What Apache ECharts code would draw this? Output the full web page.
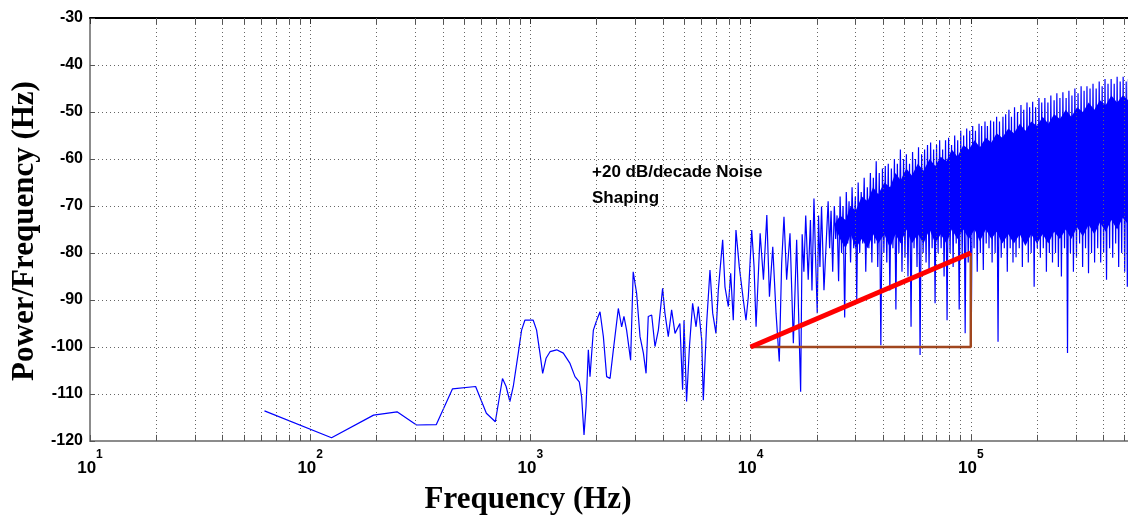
<!DOCTYPE html>
<html>
<head>
<meta charset="utf-8">
<script src="https://cdn.jsdelivr.net/npm/echarts@6/dist/echarts.min.js"></script>
<style>
  html, body { margin: 0; padding: 0; background: #fff; }
  #chart { width: 1128px; height: 521px; }
</style>
</head>
<body>
<div id="chart"></div>
<script>
// x axis range (Hz)
var xMin = 10;
var xMax = 517600;

// PSD trace: frequency (Hz) and level (dB)
var traceFreq = [
    62, 125, 194, 248, 304, 374, 443, 564, 631, 693,
    747, 776, 807, 836, 881, 912, 944, 1030, 1067, 1105,
    1137, 1178, 1228, 1317, 1411, 1513, 1594, 1667, 1709, 1752,
    1789, 1833, 1865, 1932, 2001, 2071, 2145, 2220, 2300, 2381,
    2508, 2597, 2660, 2735, 2852, 2930, 3037, 3147, 3260, 3352,
    3430, 3555, 3680, 3812, 3985, 4083, 4229, 4379, 4538, 4775,
    4912, 4985, 5121, 5277, 5455, 5654, 5790, 5998, 6100, 6316,
    6540, 6728, 6962, 7135, 7468, 7650, 7924, 8120, 8345, 8582,
    8884, 9269, 9531, 9766, 10120, 10370, 10590, 11050, 11440, 11850,
    12180, 12610, 13050, 13500, 13840, 14180, 14580, 15100, 15640, 16190,
    16880, 17150, 17460, 17800, 18270, 18700, 19000, 19400, 19700, 20080,
    20350, 20650, 21000, 21540,
    22500, 22850, 23200, 23600, 24000, 24350, 24700, 25100, 25500, 25900,
    26300, 26750, 27200, 27600, 28000, 28450, 28900, 29400, 29900, 30350,
    30800, 31300, 31800, 32300, 32800, 33350, 33900, 34450, 35000, 35550,
    36100, 36650, 37200, 37800, 38400, 39050, 39700, 40300, 40900, 41550,
    42200, 42900, 43600, 44300, 45000, 45700, 46400, 47150, 47900, 48700,
    49500, 50250, 51000, 51850, 52700, 53550, 54400, 55250, 56100, 57000,
    57900, 58850, 59800, 60750, 61700, 62650, 63600, 64650, 65700, 66750,
    67800, 68850, 69900, 71050, 72200, 73350, 74500, 75650, 76800, 78050,
    79300, 80550, 81800, 83150, 84500, 85850, 87200, 88600, 90000, 91400,
    92800, 94300, 95800, 97350, 98900, 100450, 102000, 103500, 105000, 107000,
    109000, 110500, 112000, 114000, 116000, 117500, 119000, 121000, 123000, 125000,
    127000, 129000, 131000, 133000, 135000, 137500, 140000, 142000, 144000, 146500,
    149000, 151000, 153000, 155500, 158000, 160500, 163000, 166000, 169000, 171500,
    174000, 177000, 180000, 182500, 185000, 188000, 191000, 194000, 197000, 200500,
    204000, 207000, 210000, 213500, 217000, 220500, 224000, 227500, 231000, 235000,
    239000, 242500, 246000, 250000, 254000, 258000, 262000, 266500, 271000, 275000,
    279000, 283500, 288000, 292500, 297000, 302000, 307000, 312000, 317000, 322000,
    327000, 332000, 337000, 342500, 348000, 353500, 359000, 365000, 371000, 377000,
    383000, 389000, 395000, 401000, 407000, 413500, 420000, 427000, 434000, 441000,
    448000, 455000, 462000, 469500, 477000, 484500, 492000, 500000, 508000, 514000,
    520000
];
var traceDb = [
    -113.6, -119.3, -114.5, -113.8, -116.6, -116.5, -108.9, -108.4, -114.1, -115.9,
    -106.7, -108.4, -111.6, -108.4, -101.3, -96.4, -94.3, -94.3, -96.4, -101.3,
    -105.6, -102.4, -101, -100.6, -101.3, -103.5, -106.3, -107.4, -110.6, -118.7,
    -112.7, -100.6, -106.3, -96.4, -94.3, -92.5, -97.8, -106.3, -106.7, -100.6,
    -91.8, -95.7, -93.5, -96.4, -102.8, -84.0, -88.6, -97.8, -101.3, -105.6,
    -93.5, -93.2, -99.9, -96.4, -87.5, -92.8, -97.8, -92.1, -97.1, -95.0,
    -109.1, -94.3, -111.6, -99.9, -90.7, -95.7, -91.4, -98.5, -111.3, -95.0,
    -83.6, -92.8, -97.1, -87.9, -77.2, -87.2, -91.4, -84.3, -94.3, -75.1,
    -82.9, -90.0, -94.3, -89.3, -75.1, -82.9, -95.7, -75.8, -85.7, -71.9,
    -89.3, -78.7, -92.8, -103.1, -82.2, -72.3, -85.7, -75.8, -99.2, -77.2,
    -109.5, -76, -84, -72, -85.7, -73, -88, -68.4, -80, -92.8,
    -72, -83, -70.1, -87.9,
    -69, -79, -71, -84, -70, -77, -72, -86, -68, -80,
    -70, -93.7, -67, -78, -69, -82, -66, -79, -68, -90,
    -65, -80, -67, -78, -64, -84, -66, -79, -63, -82,
    -64, -78, -60.5, -83, -63, -99.6, -62, -80, -61.5, -82,
    -61, -88, -62, -79, -60, -92, -61, -80, -58, -84,
    -60, -81, -59, -85, -61, -95.7, -58.5, -79, -60, -83,
    -57.5, -101.7, -59, -80, -58, -82, -57, -84, -56.5, -79,
    -58, -90.7, -57, -80, -56, -79, -58, -85, -56, -94.3,
    -55.5, -80, -57, -83, -55, -78, -56, -92, -54, -81,
    -55, -97.1, -53.5, -82, -54, -99.9, -53, -79, -54, -84,
    -52.5, -80, -53, -83.6, -52, -78, -53, -79, -51.8, -82,
    -52, -80, -51, -98.9, -52, -81, -51, -79, -50.5, -84,
    -49.5, -79, -51, -82, -49, -80.9, -50, -79, -48.5, -83,
    -49.5, -78, -48, -82, -49, -80, -47.8, -87.2, -49, -79,
    -47, -81, -48, -79, -47, -84, -48, -80, -46.5, -82,
    -47.5, -80, -46, -83, -47, -85, -45.8, -79, -47, -101.3,
    -45.5, -80, -46.5, -84, -45, -81, -46, -78, -44.5, -83,
    -45.5, -79, -44.5, -84.3, -45, -80, -44, -82, -45, -79,
    -43.5, -82, -44.5, -80, -43, -85.7, -44, -79, -43, -81,
    -44, -78, -42.5, -83, -43.5, -80, -42.5, -84, -43.5, -87.2,
    -43
];

// solid core of the dense noise band: ragged upper and lower edges
var coreFreq = [
    24000, 25500, 27000, 28500, 30000, 32000, 34000, 36000, 38000, 40500,
    43000, 45500, 48000, 51000, 54000, 57500, 61000, 65000, 69000, 73000,
    77500, 82000, 87000, 92500, 98000, 104000, 110000, 117000, 124000, 131000,
    139000, 148000, 157000, 167000, 177000, 188000, 200000, 212000, 225000, 239000,
    254000, 270000, 286000, 304000, 323000, 343000, 364000, 386000, 410000, 435000,
    462000, 490000, 520000
];
var coreHigh = [
    -74, -72, -73, -70, -71, -68, -69, -66, -67.5, -65,
    -66, -63, -64.5, -62, -63.5, -61, -62.5, -60, -61.5, -59.5,
    -60.5, -58, -59.5, -57, -58, -56, -57.5, -55.5, -56.5, -54.5,
    -55.5, -53.5, -54.5, -52.5, -54, -52, -53, -51, -52.5, -50.5,
    -51.5, -49.5, -51, -49, -50, -48, -49.5, -47.5, -48.5, -46.5,
    -48, -46.5, -47.5
];
var coreLow = [
    -74, -77, -79, -76, -79, -77, -79, -76, -78, -76,
    -79, -76, -78, -75, -78, -76, -78, -75, -78, -76,
    -78, -75, -77, -75, -77, -75, -77.5, -75, -77, -75.5,
    -78, -76, -78, -76, -78.5, -76, -78, -76, -78, -75.5,
    -77, -75, -77, -74.5, -76.5, -74, -76, -73.5, -75.5, -73,
    -75, -72.5, -74
];

// +20 dB/decade slope and its triangle
var slopeLine = [[10000, -100], [100000, -80]];
var slopeBox = [[10000, -100], [100000, -100], [100000, -80]];

var traceData = traceFreq.map(function (f, i) { return [f, traceDb[i]]; });

// 2..9 x decade grid lines
var minorVals = [];
[10, 100, 1000, 10000, 100000].forEach(function (d) {
    for (var m = 2; m <= 9; m++) {
        if (d * m < xMax) minorVals.push(d * m);
    }
});

var dotted = { color: '#666', type: [1, 3], width: 1 };

var dom = document.getElementById('chart');
var myChart = echarts.init(dom);

var option = {
    animation: false,
    backgroundColor: '#fff',
    grid: { left: 90, top: 18, right: 0, bottom: 80 },
    xAxis: [{
        type: 'log',
        logBase: 10,
        min: xMin,
        max: xMax,
        position: 'bottom',
        axisLine: { onZero: false, lineStyle: { color: '#8c8c8c', width: 2 } },
        axisTick: { inside: true, length: 6, lineStyle: { color: '#555' } },
        splitLine: { show: true, lineStyle: dotted },
        axisLabel: {
            margin: 8,
            showMaxLabel: false,
            formatter: function (value) {
                var e = Math.log10(value);
                if (Math.abs(e - Math.round(e)) > 1e-6) return '';
                return '{b|10}{s|' + Math.round(e) + '}';
            },
            rich: {
                b: { fontSize: 17, fontWeight: 'bold', fontFamily: 'Liberation Sans', color: '#000', verticalAlign: 'bottom', lineHeight: 28 },
                s: { fontSize: 12, fontWeight: 'bold', fontFamily: 'Liberation Sans', color: '#000', verticalAlign: 'top', lineHeight: 28 }
            }
        }
    }, {
        type: 'log',
        logBase: 10,
        min: xMin,
        max: xMax,
        position: 'top',
        axisLine: { onZero: false, lineStyle: { color: '#000', width: 2 } },
        axisTick: { inside: true, length: 6, lineStyle: { color: '#333' } },
        axisLabel: { show: false },
        splitLine: { show: false }
    }],
    yAxis: {
        type: 'value',
        min: -120,
        max: -30,
        interval: 10,
        axisLine: { show: true, lineStyle: { color: '#8c8c8c', width: 2 } },
        axisTick: { show: true, inside: true, length: 5, lineStyle: { color: '#555' } },
        axisLabel: { fontSize: 16, fontWeight: 'bold', color: '#000', margin: 7, fontFamily: 'Liberation Sans' },
        splitLine: { show: true, lineStyle: dotted }
    },
    graphic: [{
        type: 'text',
        x: 25,
        y: 231,
        rotation: Math.PI / 2,
        style: {
            text: 'Power/Frequency (Hz)',
            font: 'bold 31px "Liberation Serif"',
            fill: '#000',
            align: 'center',
            verticalAlign: 'middle'
        }
    }, {
        type: 'text',
        x: 528,
        y: 500,
        style: {
            text: 'Frequency (Hz)',
            font: 'bold 31px "Liberation Serif"',
            fill: '#000',
            align: 'center',
            verticalAlign: 'middle'
        }
    }, {
        type: 'text',
        x: 592,
        y: 159,
        z: 10,
        style: {
            text: '+20 dB/decade Noise\nShaping',
            font: 'bold 17px "Liberation Sans"',
            lineHeight: 26,
            fill: '#000',
            align: 'left',
            verticalAlign: 'top'
        }
    }],
    series: [{
        name: 'minor grid',
        type: 'line',
        data: [],
        z: 1,
        silent: true,
        markLine: {
            silent: true,
            symbol: ['none', 'none'],
            label: { show: false },
            lineStyle: dotted,
            data: minorVals.map(function (f) { return { xAxis: f }; })
        }
    }, {
        name: 'minor ticks',
        type: 'line',
        data: [],
        z: 1,
        silent: true,
        markLine: {
            silent: true,
            symbol: ['none', 'none'],
            label: { show: false },
            lineStyle: { color: '#555', type: 'solid', width: 1 },
            data: minorVals.map(function (f) {
                return [{ coord: [f, -120] }, { coord: [f, -118.7] }];
            }).concat(minorVals.map(function (f) {
                return [{ coord: [f, -30] }, { coord: [f, -31.3] }];
            }))
        }
    }, {
        name: 'core',
        type: 'custom',
        z: 2,
        silent: true,
        data: coreFreq.map(function (f, i) { return [f, coreLow[i], coreHigh[i]]; }),
        encode: { x: 0, y: [1, 2] },
        renderItem: function (params, api) {
            if (params.dataIndex !== 0) return;
            var pts = [];
            for (var i = 0; i < coreFreq.length; i++) pts.push(api.coord([coreFreq[i], coreHigh[i]]));
            for (var j = coreFreq.length - 1; j >= 0; j--) pts.push(api.coord([coreFreq[j], coreLow[j]]));
            return { type: 'polygon', shape: { points: pts }, style: { fill: '#0000ff' } };
        }
    }, {
        name: 'psd',
        type: 'line',
        z: 3,
        data: traceData,
        showSymbol: false,
        symbol: 'none',
        lineStyle: { color: '#0000ff', width: 1.2 }
    }, {
        name: 'triangle',
        type: 'line',
        z: 4,
        data: slopeBox,
        symbol: 'none',
        lineStyle: { color: '#a0461e', width: 2.5 }
    }, {
        name: 'slope',
        type: 'line',
        z: 5,
        data: slopeLine,
        symbol: 'none',
        lineStyle: { color: '#ff0000', width: 5 }
    }]
};

if (option && typeof option === 'object') {
    myChart.setOption(option, true);
}
</script>
</body>
</html>
